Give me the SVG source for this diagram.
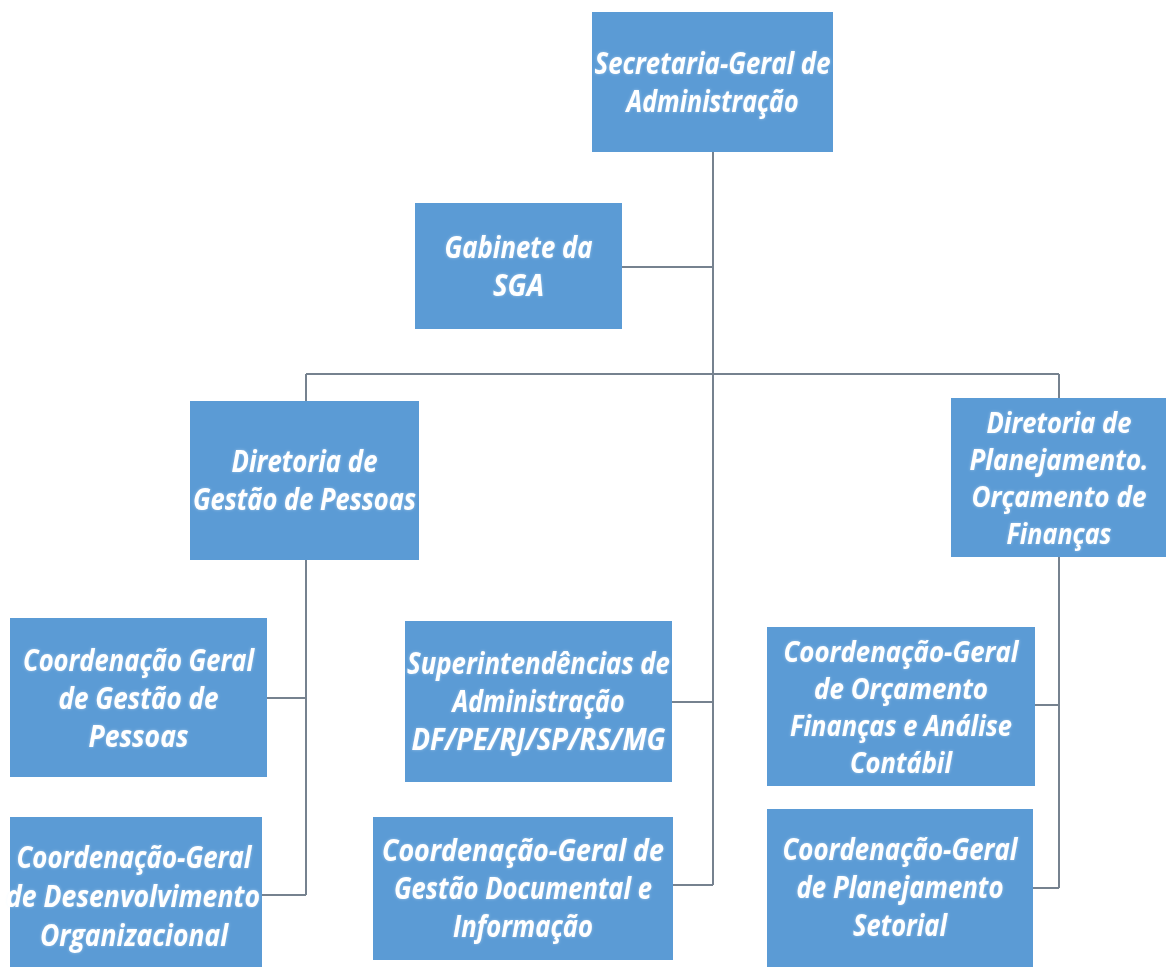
<svg xmlns="http://www.w3.org/2000/svg" width="1166" height="967" viewBox="0 0 1166 967">
  <defs>
    <style>
      .box { fill: #5b9bd5; }
      .lbl { font-family: "Open Sans", "Noto Sans", "Liberation Sans", sans-serif; font-size: 31px; font-weight: 700; font-style: italic; fill: #ffffff; text-anchor: middle; filter: url(#glow); }
      .lbl4 { font-size: 29px; }
      .wire { fill: none; stroke: #76828f; stroke-width: 2; }
    </style>
    <filter id="glow" x="-10%" y="-40%" width="120%" height="180%">
      <feGaussianBlur in="SourceAlpha" stdDeviation="1.6" result="b"/>
      <feFlood flood-color="#e8f4ff" flood-opacity="0.45"/>
      <feComposite in2="b" operator="in" result="halo"/>
      <feMerge>
        <feMergeNode in="halo"/>
        <feMergeNode in="SourceGraphic"/>
      </feMerge>
    </filter>
  </defs>

  <rect width="1166" height="967" fill="#ffffff"/>

  <!-- connectors: trunk, cross bar and the side branches -->
  <g id="connectors" class="wire">
    <path d="M713 152 V885"/>
    <path d="M622 267 H713"/>
    <path d="M306 374 H1059"/>
    <path d="M306 374 V401"/>
    <path d="M306 560 V895"/>
    <path d="M1059 374 V398"/>
    <path d="M1059 557 V888"/>
    <path d="M267 698 H306"/>
    <path d="M262 895 H306"/>
    <path d="M672 702 H713"/>
    <path d="M673 885 H713"/>
    <path d="M1035 705 H1059"/>
    <path d="M1033 888 H1059"/>
  </g>

  <g id="sga">
    <rect class="box" x="592" y="12" width="241" height="140"/>
    <text class="lbl" x="712.5" y="74" textLength="236" lengthAdjust="spacingAndGlyphs">Secretaria-Geral de</text>
    <text class="lbl" x="712.5" y="112" textLength="172" lengthAdjust="spacingAndGlyphs">Administração</text>
  </g>

  <g id="gabinete">
    <rect class="box" x="415" y="203" width="207" height="126"/>
    <text class="lbl" x="518.5" y="258" textLength="148" lengthAdjust="spacingAndGlyphs">Gabinete da</text>
    <text class="lbl" x="518.5" y="296" textLength="51" lengthAdjust="spacingAndGlyphs">SGA</text>
  </g>

  <g id="dir-gestao-pessoas">
    <rect class="box" x="190" y="401" width="229" height="159"/>
    <text class="lbl" x="304.5" y="472" textLength="146" lengthAdjust="spacingAndGlyphs">Diretoria de</text>
    <text class="lbl" x="304.5" y="510" textLength="223" lengthAdjust="spacingAndGlyphs">Gestão de Pessoas</text>
  </g>

  <g id="dir-planejamento">
    <rect class="box" x="951" y="398" width="215" height="159"/>
    <text class="lbl lbl4" x="1059" y="433" textLength="145" lengthAdjust="spacingAndGlyphs">Diretoria de</text>
    <text class="lbl lbl4" x="1059" y="470" textLength="179" lengthAdjust="spacingAndGlyphs">Planejamento.</text>
    <text class="lbl lbl4" x="1059" y="507" textLength="175" lengthAdjust="spacingAndGlyphs">Orçamento de</text>
    <text class="lbl lbl4" x="1059" y="544" textLength="105" lengthAdjust="spacingAndGlyphs">Finanças</text>
  </g>

  <g id="cg-gestao-pessoas">
    <rect class="box" x="10" y="618" width="257" height="159"/>
    <text class="lbl" x="138.5" y="671" textLength="231" lengthAdjust="spacingAndGlyphs">Coordenação Geral</text>
    <text class="lbl" x="138.5" y="709" textLength="160" lengthAdjust="spacingAndGlyphs">de Gestão de</text>
    <text class="lbl" x="138.5" y="747" textLength="100" lengthAdjust="spacingAndGlyphs">Pessoas</text>
  </g>

  <g id="cg-desenvolvimento">
    <rect class="box" x="10" y="817" width="252" height="160"/>
    <text class="lbl" x="134" y="868" textLength="235" lengthAdjust="spacingAndGlyphs">Coordenação-Geral</text>
    <text class="lbl" x="133" y="907" textLength="254" lengthAdjust="spacingAndGlyphs">de Desenvolvimento</text>
    <text class="lbl" x="134" y="946" textLength="188" lengthAdjust="spacingAndGlyphs">Organizacional</text>
  </g>

  <g id="superintendencias">
    <rect class="box" x="405" y="621" width="267" height="161"/>
    <text class="lbl" x="538.5" y="674" textLength="263" lengthAdjust="spacingAndGlyphs">Superintendências de</text>
    <text class="lbl" x="538.5" y="712" textLength="172" lengthAdjust="spacingAndGlyphs">Administração</text>
    <text class="lbl" x="538.5" y="750" textLength="254" lengthAdjust="spacingAndGlyphs">DF/PE/RJ/SP/RS/MG</text>
  </g>

  <g id="cg-gestao-documental">
    <rect class="box" x="373" y="817" width="300" height="143"/>
    <text class="lbl" x="523" y="861" textLength="282" lengthAdjust="spacingAndGlyphs">Coordenação-Geral de</text>
    <text class="lbl" x="523" y="899" textLength="258" lengthAdjust="spacingAndGlyphs">Gestão Documental e</text>
    <text class="lbl" x="523" y="937" textLength="140" lengthAdjust="spacingAndGlyphs">Informação</text>
  </g>

  <g id="cg-orcamento">
    <rect class="box" x="767" y="627" width="268" height="159"/>
    <text class="lbl lbl4" x="901" y="662" textLength="235" lengthAdjust="spacingAndGlyphs">Coordenação-Geral</text>
    <text class="lbl lbl4" x="901" y="699" textLength="174" lengthAdjust="spacingAndGlyphs">de Orçamento</text>
    <text class="lbl lbl4" x="901" y="736" textLength="222" lengthAdjust="spacingAndGlyphs">Finanças e Análise</text>
    <text class="lbl lbl4" x="901" y="773" textLength="102" lengthAdjust="spacingAndGlyphs">Contábil</text>
  </g>

  <g id="cg-planejamento-setorial">
    <rect class="box" x="767" y="809" width="266" height="160"/>
    <text class="lbl" x="900" y="860" textLength="235" lengthAdjust="spacingAndGlyphs">Coordenação-Geral</text>
    <text class="lbl" x="900" y="898" textLength="207" lengthAdjust="spacingAndGlyphs">de Planejamento</text>
    <text class="lbl" x="900" y="936" textLength="94" lengthAdjust="spacingAndGlyphs">Setorial</text>
  </g>
</svg>
